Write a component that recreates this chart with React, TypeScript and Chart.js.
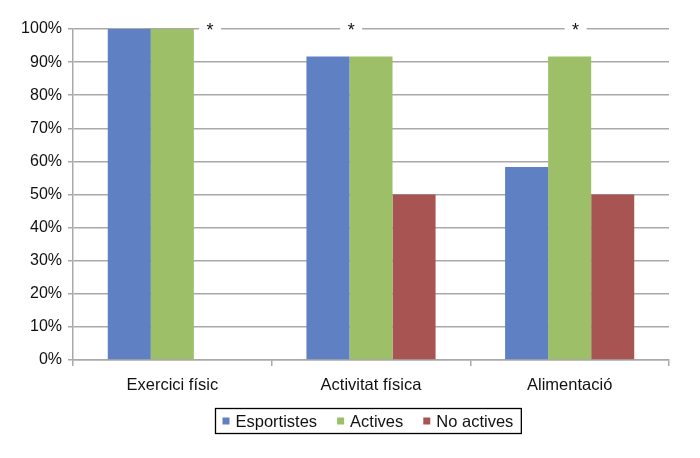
import React, { useEffect, useRef } from "react";
import { Chart, registerables } from "chart.js";

Chart.register(...registerables);

const categories = ["Exercici físic", "Activitat física", "Alimentació"];
const seriesNames = ["Esportistes", "Actives", "No actives"];
const esportistes = [100, 91.67, 58.33];
const actives = [100, 91.67, 91.67];
const noActives = [0, 50, 50];
const seriesColors = ["#5F80C3", "#9CBF68", "#A85452"];
const asteriskPositions = [0.19, 0.9, 2.03];
const asteriskValue = 100;

const FONT = "'Liberation Sans', Arial, sans-serif";
const GRID = "#a9a9a9";

const overlayPlugin = {
  id: "overlay",
  afterDraw(chart: any) {
    const ctx = chart.ctx;
    const x = chart.scales.x;
    const y = chart.scales.y;
    const yy = y.getPixelForValue(asteriskValue);
    ctx.save();
    // asterisks breaking the top gridline
    ctx.font = `18px ${FONT}`;
    ctx.textAlign = "center";
    ctx.textBaseline = "alphabetic";
    for (const p of asteriskPositions) {
      const px = x.getPixelForValue(p);
      ctx.fillStyle = "#ffffff";
      ctx.fillRect(px - 11, yy - 4, 22, 8);
      ctx.fillStyle = "#111111";
      ctx.fillText("*", px, yy + 7);
    }
    // legend
    ctx.font = `16.5px ${FONT}`;
    const marker = 7;
    const gapMT = 6;
    const gapItems = 20;
    const padL = 7;
    const padR = 8;
    const widths = seriesNames.map((n) => ctx.measureText(n).width);
    let total = padL + padR;
    widths.forEach((w, i) => {
      total += marker + gapMT + w + (i < widths.length - 1 ? gapItems : 0);
    });
    const cx = 367.5;
    const boxX = Math.round(cx - total / 2) + 0.5;
    const boxY = 408.5;
    const boxH = 25;
    ctx.fillStyle = "#ffffff";
    ctx.fillRect(boxX, boxY, total, boxH);
    ctx.strokeStyle = "#000000";
    ctx.lineWidth = 1.3;
    ctx.strokeRect(boxX, boxY, total, boxH);
    let cur = boxX + padL;
    const midY = boxY + boxH / 2;
    ctx.textAlign = "left";
    ctx.textBaseline = "middle";
    seriesNames.forEach((n, i) => {
      ctx.fillStyle = seriesColors[i];
      ctx.fillRect(cur, midY - marker / 2, marker, marker);
      cur += marker + gapMT;
      ctx.fillStyle = "#111111";
      ctx.fillText(n, cur, midY + 1);
      cur += widths[i] + gapItems;
    });
    ctx.restore();
  },
};

export default function App() {
  const ref = useRef<HTMLCanvasElement>(null);
  useEffect(() => {
    if (!ref.current) return;
    const chart = new Chart(ref.current, {
      type: "bar",
      data: {
        labels: categories,
        datasets: [
          { label: seriesNames[0], data: esportistes, backgroundColor: seriesColors[0] },
          { label: seriesNames[1], data: actives, backgroundColor: seriesColors[1] },
          { label: seriesNames[2], data: noActives, backgroundColor: seriesColors[2] },
        ],
      },
      options: {
        responsive: false,
        animation: false,
        devicePixelRatio: 1,
        layout: { padding: { top: 29, right: 31, left: 0, bottom: 0 } },
        plugins: { legend: { display: false }, tooltip: { enabled: false } },
        datasets: { bar: { barPercentage: 1, categoryPercentage: 0.65 } },
        scales: {
          x: {
            offset: true,
            grid: {
              display: true,
              drawOnChartArea: false,
              drawTicks: true,
              tickLength: 6,
              offset: true,
              color: GRID,
              lineWidth: 1.5,
            },
            border: { display: true, color: GRID, width: 1.5 },
            ticks: {
              color: "#111111",
              padding: 10,
              font: { family: FONT, size: 16.5 },
            },
            afterFit(scale: any) {
              scale.height = 98;
            },
          },
          y: {
            min: 0,
            max: 100,
            ticks: {
              stepSize: 10,
              color: "#111111",
              padding: 6,
              font: { family: FONT, size: 16 },
              callback: (v: any) => `${v}%`,
            },
            grid: { color: GRID, lineWidth: 1.5, tickLength: 5 },
            border: { display: true, color: GRID, width: 1.5 },
            afterFit(scale: any) {
              scale.width = 73;
            },
          },
        },
      },
      plugins: [overlayPlugin],
    });
    return () => chart.destroy();
  }, []);
  return (
    <div style={{ position: "fixed", left: 0, top: 0, width: 700, height: 458, background: "#fff" }}>
      <canvas ref={ref} width={700} height={458} style={{ width: 700, height: 458 }} />
    </div>
  );
}
